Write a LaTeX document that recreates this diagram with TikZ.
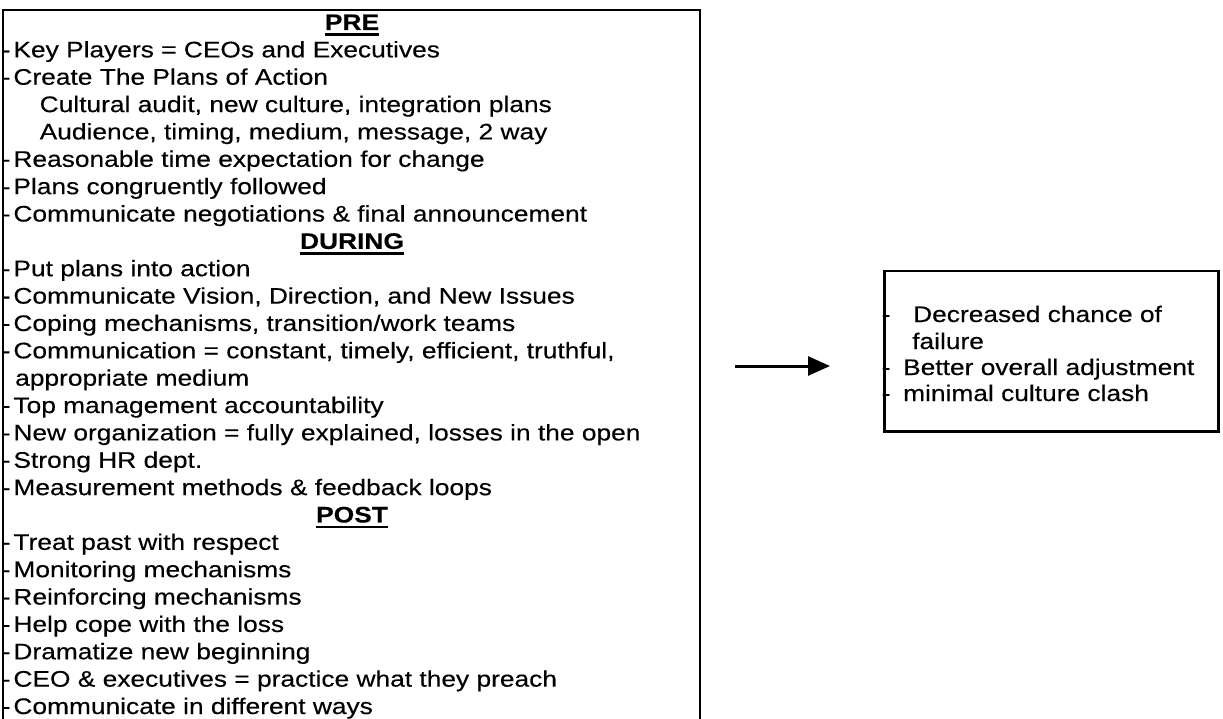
\documentclass[tikz,border=0pt]{standalone}
\usepackage{fontspec}
\setmainfont{Liberation Sans}[FakeStretch=1.17,FakeBold=0.3]
\usetikzlibrary{arrows.meta}
\begin{document}
\begin{tikzpicture}[x=1pt,y=-1pt,
  txt/.style={anchor=base west, inner sep=0pt, font=\fontsize{22.5}{27}\selectfont},
  hdr/.style={anchor=base, inner sep=0pt, font=\fontsize{22.5}{27}\selectfont\bfseries},
  boxline/.style={line width=2.5pt, line cap=rect},
  uline/.style={line width=2.6pt},
  arr/.style={line width=3pt, -{Triangle[length=22pt,width=19pt]}}
]
\useasboundingbox (0,0) rectangle (1223,719);
\fill[white] (0,0) rectangle (1223,719);
% left box corners
\coordinate (lbtl) at (3,10);
\coordinate (lbtr) at (700,10);
\coordinate (lbbl) at (3,725);
\coordinate (lbbr) at (700,725);
\draw[boxline] (lbbl) -- (lbtl) -- (lbtr) -- (lbbr);
% PRE
\node[hdr] (hpre) at (352,30) {PRE};
\node[txt] (l1) at (1.5,57.36) {-\kern3pt Key Players = CEOs and Executives};
\node[txt] (l2) at (1.5,84.72) {-\kern3pt Create The Plans of Action};
\node[txt] (l3) at (39.5,112.08) {Cultural audit, new culture, integration plans};
\node[txt] (l4) at (39.5,139.44) {Audience, timing, medium, message, 2 way};
\node[txt] (l5) at (1.5,166.8) {-\kern3pt Reasonable time expectation for change};
\node[txt] (l6) at (1.5,194.16) {-\kern3pt Plans congruently followed};
\node[txt] (l7) at (1.5,221.52) {-\kern3pt Communicate negotiations \& final announcement};
% DURING
\node[hdr] (hdur) at (352,248.88) {DURING};
\node[txt] (l9) at (1.5,276.24) {-\kern3pt Put plans into action};
\node[txt] (l10) at (1.5,303.6) {-\kern3pt Communicate Vision, Direction, and New Issues};
\node[txt] (l11) at (1.5,330.96) {-\kern3pt Coping mechanisms, transition/work teams};
\node[txt] (l12) at (1.5,358.32) {-\kern3pt Communication = constant, timely, efficient, truthful,};
\node[txt] (l13) at (15,385.68) {appropriate medium};
\node[txt] (l14) at (1.5,413.04) {-\kern3pt Top management accountability};
\node[txt] (l15) at (1.5,440.4) {-\kern3pt New organization = fully explained, losses in the open};
\node[txt] (l16) at (1.5,467.76) {-\kern3pt Strong HR dept.};
\node[txt] (l17) at (1.5,495.12) {-\kern3pt Measurement methods \& feedback loops};
% POST
\node[hdr] (hpost) at (352,522.48) {POST};
\node[txt] (l19) at (1.5,549.84) {-\kern3pt Treat past with respect};
\node[txt] (l20) at (1.5,577.2) {-\kern3pt Monitoring mechanisms};
\node[txt] (l21) at (1.5,604.56) {-\kern3pt Reinforcing mechanisms};
\node[txt] (l22) at (1.5,631.92) {-\kern3pt Help cope with the loss};
\node[txt] (l23) at (1.5,659.28) {-\kern3pt Dramatize new beginning};
\node[txt] (l24) at (1.5,686.64) {-\kern3pt CEO \& executives = practice what they preach};
\node[txt] (l25) at (1.5,714) {-\kern3pt Communicate in different ways};
% underlines
\foreach \h in {hpre,hdur,hpost}{
  \draw[uline] ([yshift=-4.5pt]\h.base west) -- ([yshift=-4.5pt]\h.base east);
}
% arrow
\coordinate (astart) at (735,366);
\coordinate (aend) at (830,366);
\draw[arr] (astart) -- (aend);
% right box
\node[draw, line width=2.5pt, anchor=north west, inner sep=0pt,
      minimum width=334pt, minimum height=160pt] (rbox) at (883,270) {};
\node[txt] (r1) at (881.5,322) {-\kern22.7pt Decreased chance of};
\node[txt] (r2) at (912,349) {failure};
\node[txt] (r3) at (881.5,375) {-\kern12.7pt Better overall adjustment};
\node[txt] (r4) at (881.5,401) {-\kern12.7pt minimal culture clash};
\end{tikzpicture}
\end{document}
